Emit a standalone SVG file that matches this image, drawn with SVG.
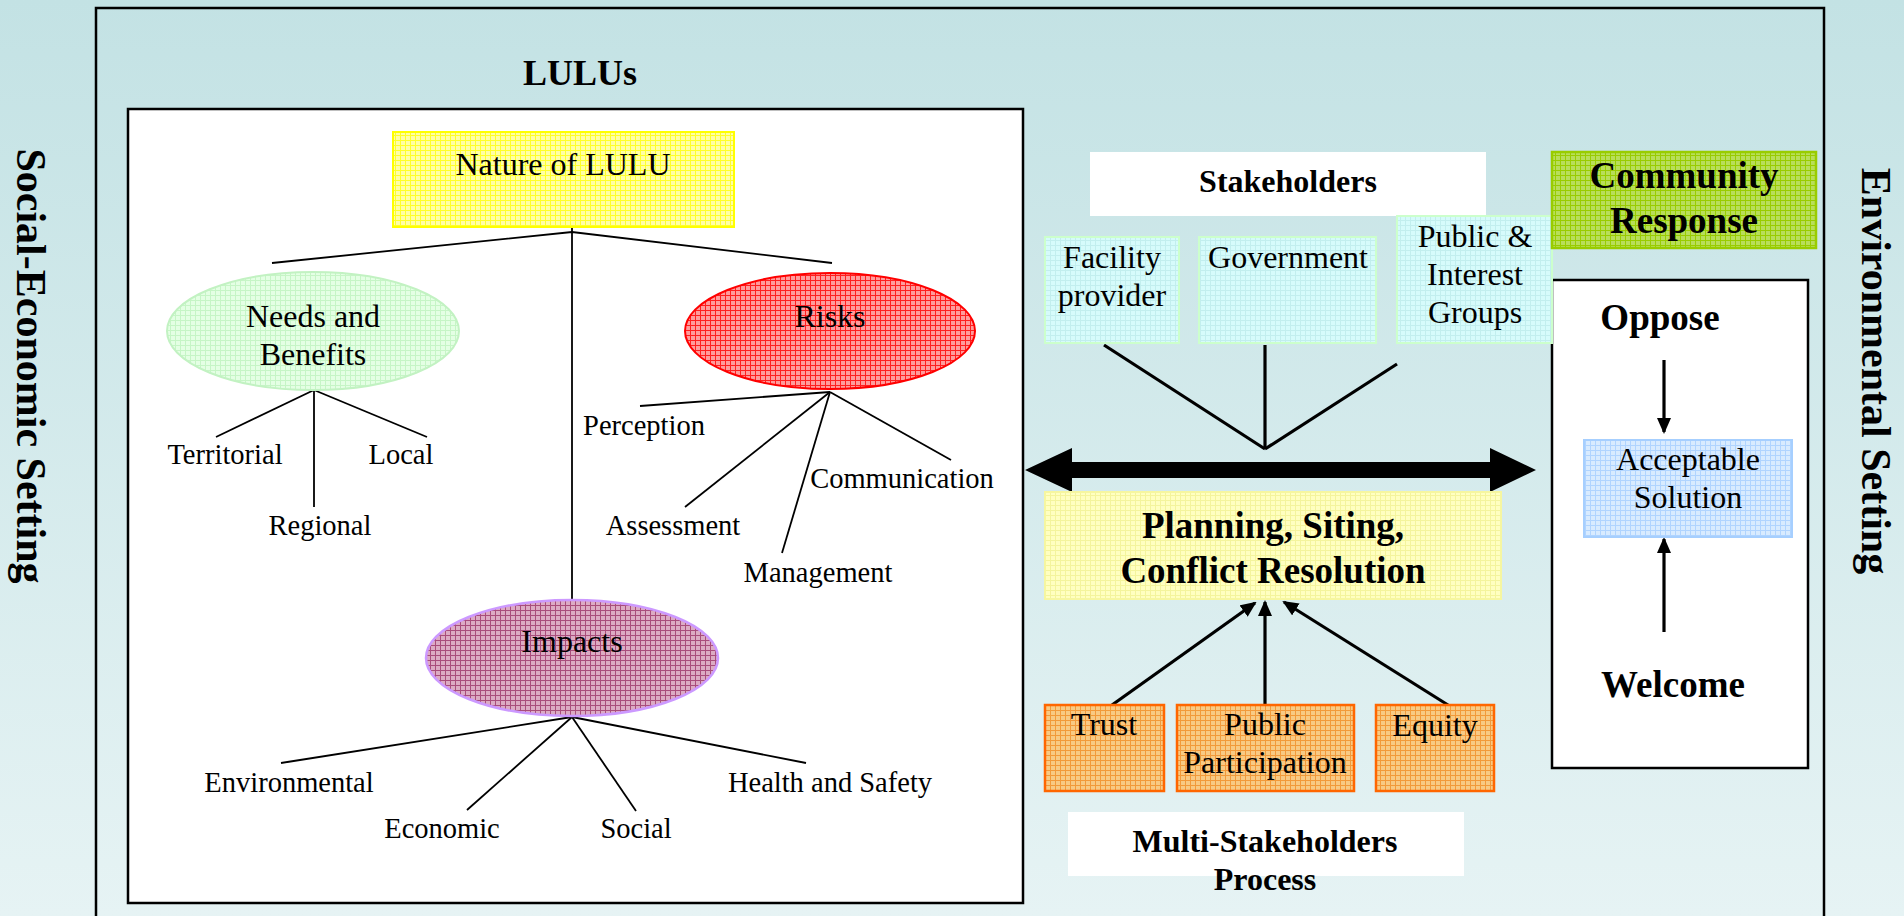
<svg xmlns="http://www.w3.org/2000/svg" width="1904" height="916" viewBox="0 0 1904 916">
<defs>
<linearGradient id="bg" x1="0" y1="0" x2="0" y2="1">
<stop offset="0" stop-color="#c3e2e4"/>
<stop offset="1" stop-color="#e6f3f4"/>
</linearGradient>
<pattern id="pY" width="5" height="5" patternUnits="userSpaceOnUse"><rect width="5" height="5" fill="#ffffa6"/><path d="M0 0.5H5M0.5 0V5" stroke="#ffff2a" stroke-width="1"/></pattern>
<pattern id="pG" width="5" height="5" patternUnits="userSpaceOnUse"><rect width="5" height="5" fill="#e4ffe4"/><path d="M0 0.5H5M0.5 0V5" stroke="#c6f5c6" stroke-width="1"/></pattern>
<pattern id="pR" width="5" height="5" patternUnits="userSpaceOnUse"><rect width="5" height="5" fill="#ff9c9c"/><path d="M0 0.5H5M0.5 0V5" stroke="#ff2020" stroke-width="1"/></pattern>
<pattern id="pM" width="5" height="5" patternUnits="userSpaceOnUse"><rect width="5" height="5" fill="#dcabc3"/><path d="M0 0.5H5M0.5 0V5" stroke="#a94d7b" stroke-width="1"/></pattern>
<pattern id="pC" width="5" height="5" patternUnits="userSpaceOnUse"><rect width="5" height="5" fill="#d6fbfb"/><path d="M0 0.5H5M0.5 0V5" stroke="#c2eeee" stroke-width="1"/></pattern>
<pattern id="pL" width="5" height="5" patternUnits="userSpaceOnUse"><rect width="5" height="5" fill="#b8de5a"/><path d="M0 0.5H5M0.5 0V5" stroke="#99cc00" stroke-width="1"/></pattern>
<pattern id="pB" width="5" height="5" patternUnits="userSpaceOnUse"><rect width="5" height="5" fill="#d8ebff"/><path d="M0 0.5H5M0.5 0V5" stroke="#b0d4ff" stroke-width="1"/></pattern>
<pattern id="pP" width="5" height="5" patternUnits="userSpaceOnUse"><rect width="5" height="5" fill="#ffffc0"/><path d="M0 0.5H5M0.5 0V5" stroke="#f4f49c" stroke-width="1"/></pattern>
<pattern id="pO" width="5" height="5" patternUnits="userSpaceOnUse"><rect width="5" height="5" fill="#f8ca84"/><path d="M0 0.5H5M0.5 0V5" stroke="#f29a3a" stroke-width="1"/></pattern>
<marker id="ah" viewBox="0 0 16 14" refX="14" refY="7" markerWidth="16" markerHeight="14" markerUnits="userSpaceOnUse" orient="auto">
<path d="M0 0L16 7L0 14z" fill="#000"/>
</marker>
<style>
.t{font-family:"Liberation Serif","Times New Roman",serif;fill:#000;text-anchor:middle}
.r32{font-size:32px}
.r28{font-size:28.5px}
.b32{font-size:32px;font-weight:bold}
.b37{font-size:37px;font-weight:bold}
.b36{font-size:36px;font-weight:bold}
.side{font-size:42px;font-weight:bold}
.ln{stroke:#000;stroke-width:1.8;fill:none}
.th{stroke:#000;stroke-width:3.2;fill:none}
</style>
</defs>

<rect width="1904" height="916" fill="url(#bg)"/>

<g id="frame">
<rect x="96" y="8" width="1728" height="930" fill="none" stroke="#000" stroke-width="2.5"/>
</g>

<g id="side-left">
<text class="t side" transform="translate(17,366) rotate(90)">Social-Economic Setting</text>
</g>
<g id="side-right">
<text class="t side" transform="translate(1862,371) rotate(90)">Environmental Setting</text>
</g>

<g id="lulus-title">
<text class="t b36" x="580" y="85">LULUs</text>
</g>

<g id="lulu-box">
<rect x="128" y="109" width="895" height="794" fill="#fff" stroke="#000" stroke-width="2.5"/>
</g>

<g id="response-box">
<rect x="1552" y="280" width="256" height="488" fill="#fff" stroke="#000" stroke-width="2.5"/>
</g>

<g id="connectors">
<line class="ln" x1="572" y1="227" x2="572" y2="600"/>
<polyline class="ln" points="272,263 572,232 832,263"/>
<line class="ln" x1="314" y1="390" x2="216" y2="437"/>
<line class="ln" x1="314" y1="390" x2="427" y2="437"/>
<line class="ln" x1="314" y1="390" x2="314" y2="507"/>
<line class="ln" x1="830" y1="392" x2="640" y2="406"/>
<line class="ln" x1="830" y1="392" x2="685" y2="507"/>
<line class="ln" x1="830" y1="392" x2="782" y2="553"/>
<line class="ln" x1="830" y1="392" x2="951" y2="460"/>
<line class="ln" x1="572" y1="717" x2="281" y2="763"/>
<line class="ln" x1="572" y1="717" x2="467" y2="810"/>
<line class="ln" x1="572" y1="717" x2="636" y2="811"/>
<line class="ln" x1="572" y1="717" x2="806" y2="763"/>
<line class="th" x1="1104" y1="345" x2="1265" y2="449"/>
<line class="th" x1="1265" y1="345" x2="1265" y2="449"/>
<line class="th" x1="1397" y1="364" x2="1265" y2="449"/>
<polygon points="1025,470 1072,448 1072,462 1490,462 1490,448 1536,470 1490,492 1490,478 1072,478 1072,492" fill="#000"/>
<line class="th" x1="1112" y1="705" x2="1255" y2="603" marker-end="url(#ah)"/>
<line class="th" x1="1265" y1="705" x2="1265" y2="602" marker-end="url(#ah)"/>
<line class="th" x1="1448" y1="705" x2="1284" y2="602" marker-end="url(#ah)"/>
<line class="th" x1="1664" y1="360" x2="1664" y2="432" marker-end="url(#ah)"/>
<line class="th" x1="1664" y1="632" x2="1664" y2="539" marker-end="url(#ah)"/>
</g>

<g id="nature">
<rect x="393" y="132" width="341" height="95" fill="url(#pY)" stroke="#ffff00" stroke-width="2"/>
<text class="t r32" x="563" y="175">Nature of LULU</text>
</g>

<g id="needs">
<ellipse cx="313" cy="331" rx="146" ry="59" fill="url(#pG)" stroke="#c2f2c2" stroke-width="2"/>
<text class="t r32" x="313" y="327">Needs and</text>
<text class="t r32" x="313" y="365">Benefits</text>
</g>

<g id="risks">
<ellipse cx="830" cy="331" rx="145" ry="58" fill="url(#pR)" stroke="#ff0000" stroke-width="2"/>
<text class="t r32" x="830" y="327">Risks</text>
</g>

<g id="impacts">
<ellipse cx="572" cy="658" rx="146" ry="58" fill="url(#pM)" stroke="#cc99ff" stroke-width="2.5"/>
<text class="t r32" x="572" y="652">Impacts</text>
</g>

<g id="needs-labels">
<text class="t r28" x="225" y="464">Territorial</text>
<text class="t r28" x="401" y="464">Local</text>
<text class="t r28" x="320" y="535">Regional</text>
</g>

<g id="risks-labels">
<text class="t r28" x="644" y="435">Perception</text>
<text class="t r28" x="673" y="535">Assessment</text>
<text class="t r28" x="818" y="582">Management</text>
<text class="t r28" x="902" y="488">Communication</text>
</g>

<g id="impacts-labels">
<text class="t r28" x="289" y="792">Environmental</text>
<text class="t r28" x="442" y="838">Economic</text>
<text class="t r28" x="636" y="838">Social</text>
<text class="t r28" x="830" y="792">Health and Safety</text>
</g>

<g id="stakeholders-title">
<rect x="1090" y="152" width="396" height="64" fill="#fff"/>
<text class="t b32" x="1288" y="192">Stakeholders</text>
</g>

<g id="facility">
<rect x="1045" y="237" width="134" height="106" fill="url(#pC)" stroke="#ccffcc" stroke-width="2"/>
<text class="t r32" x="1112" y="268">Facility</text>
<text class="t r32" x="1112" y="306">provider</text>
</g>

<g id="government">
<rect x="1199" y="237" width="177" height="106" fill="url(#pC)" stroke="#ccffcc" stroke-width="2"/>
<text class="t r32" x="1288" y="268">Government</text>
</g>

<g id="public-interest">
<rect x="1397" y="216" width="155" height="127" fill="url(#pC)" stroke="#ccffcc" stroke-width="2"/>
<text class="t r32" x="1475" y="247">Public &amp;</text>
<text class="t r32" x="1475" y="285">Interest</text>
<text class="t r32" x="1475" y="323">Groups</text>
</g>

<g id="community-response">
<rect x="1552" y="152" width="264" height="96" fill="url(#pL)" stroke="#99cc00" stroke-width="2.5"/>
<text class="t b37" x="1684" y="188">Community</text>
<text class="t b37" x="1684" y="233">Response</text>
</g>

<g id="oppose">
<text class="t b37" x="1660" y="330">Oppose</text>
</g>

<g id="acceptable">
<rect x="1584" y="440" width="208" height="97" fill="url(#pB)" stroke="#a6cfff" stroke-width="2"/>
<text class="t r32" x="1688" y="470">Acceptable</text>
<text class="t r32" x="1688" y="508">Solution</text>
</g>

<g id="welcome">
<text class="t b37" x="1673" y="697">Welcome</text>
</g>

<g id="planning">
<rect x="1045" y="492" width="456" height="107" fill="url(#pP)" stroke="#f6f6a0" stroke-width="2"/>
<text class="t b37" x="1273" y="538">Planning, Siting,</text>
<text class="t b37" x="1273" y="583">Conflict Resolution</text>
</g>

<g id="trust">
<rect x="1045" y="705" width="119" height="86" fill="url(#pO)" stroke="#ff6600" stroke-width="2.5"/>
<text class="t r32" x="1104" y="735">Trust</text>
</g>

<g id="public-participation">
<rect x="1177" y="705" width="177" height="86" fill="url(#pO)" stroke="#ff6600" stroke-width="2.5"/>
<text class="t r32" x="1265" y="735">Public</text>
<text class="t r32" x="1265" y="773">Participation</text>
</g>

<g id="equity">
<rect x="1376" y="705" width="118" height="86" fill="url(#pO)" stroke="#ff6600" stroke-width="2.5"/>
<text class="t r32" x="1435" y="736">Equity</text>
</g>

<g id="multi-stakeholders">
<rect x="1068" y="812" width="396" height="64" fill="#fff"/>
<text class="t b32" x="1265" y="852">Multi-Stakeholders</text>
<text class="t b32" x="1265" y="890">Process</text>
</g>
</svg>
